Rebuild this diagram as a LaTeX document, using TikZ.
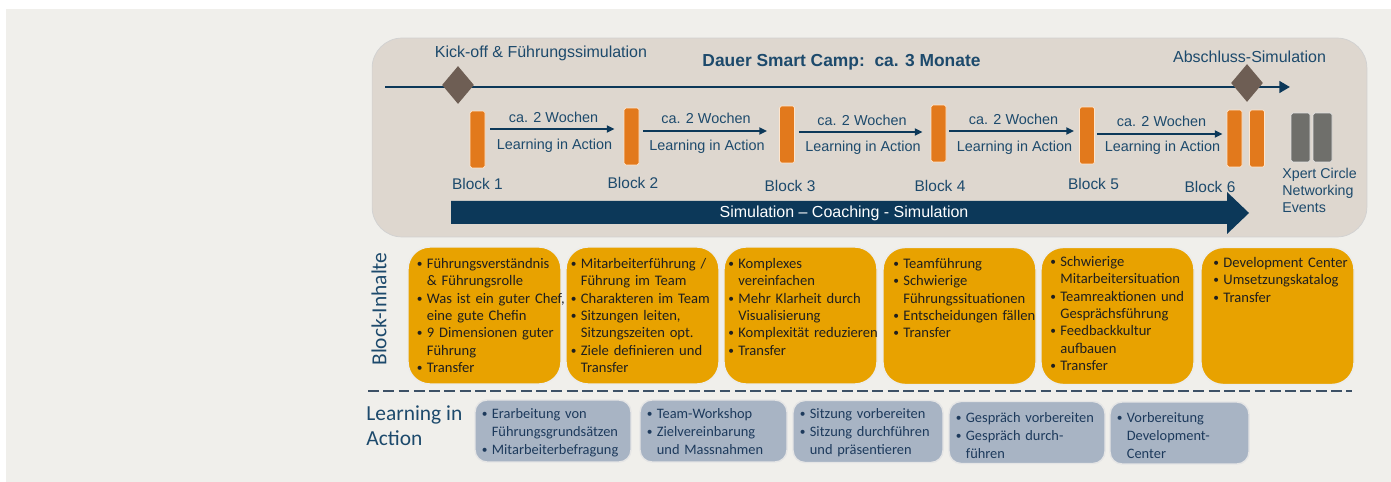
\documentclass[tikz,border=0pt]{standalone}
\usepackage{fontspec}
\setmainfont{Carlito}
\newfontfamily\arialfont{Liberation Sans}
\usetikzlibrary{shapes.geometric, arrows.meta, calc}

\definecolor{pagegray}{HTML}{F0EFEB}
\definecolor{campgray}{HTML}{DED7CF}
\definecolor{campnavy}{HTML}{0C3859}
\definecolor{navytext}{HTML}{1D4A6C}
\definecolor{mgbrown}{HTML}{6E5E54}
\definecolor{blockorange}{HTML}{E2791C}
\definecolor{xpgray}{HTML}{6F6F6B}
\definecolor{inhgold}{HTML}{E8A200}
\definecolor{liablue}{HTML}{A8B4C4}
\definecolor{liaink}{HTML}{1D3A5C}
\definecolor{sepline}{HTML}{3D5166}

% bullet point with hanging indent, \nl breaks inside the point
\newcommand{\bp}{\par\hangindent=5.7pt\hangafter=1\noindent\makebox[5.7pt][l]{\raisebox{0.5pt}{\fontsize{6.5}{6.5}\selectfont\textbullet}}}
\newcommand{\nl}{\newline}

\tikzset{
  camp/.style={draw=black!18, fill=campgray, rounded corners=0.6cm, minimum width=19.9cm, minimum height=3.98cm},
  tline/.style={draw=campnavy, line width=1.7pt, -{Triangle[length=6pt, width=6.5pt]}},
  milestone/.style={diamond, fill=mgbrown, inner sep=0, minimum width=0.64cm, minimum height=0.76cm},
  blk/.style={fill=blockorange, draw=orange!20, line width=0.4pt, rounded corners=1pt, inner sep=0, minimum width=0.3cm, minimum height=1.14cm},
  xblk/.style={fill=xpgray, draw=black!12, line width=0.4pt, rounded corners=1pt, inner sep=0, minimum width=0.38cm, minimum height=0.98cm},
  toptext/.style={font=\arialfont\fontsize{9.1}{11}\selectfont, text=navytext, inner sep=0},
  blktext/.style={font=\arialfont\fontsize{8.8}{10.5}\selectfont, text=navytext, inner sep=0},
  wk/.style={draw=campnavy, line width=1.1pt, -{Triangle[length=4.5pt, width=4pt]}},
  wktext/.style={font=\arialfont\fontsize{8.2}{10}\selectfont, text=navytext, inner sep=0},
  inh/.style={fill=inhgold, draw=white!85!gray, line width=0.8pt, rounded corners=0.44cm, minimum width=3.06cm, minimum height=2.74cm},
  inhtext/.style={anchor=north west, inner sep=0, text width=3.5cm, align=left, text=black!88, font=\fontsize{8.3}{9.9}\selectfont},
  lia/.style={fill=liablue, draw=white!80!gray, line width=0.8pt, rounded corners=0.24cm, minimum height=1.24cm},
  liatext/.style={anchor=north west, inner sep=0, text width=3.5cm, align=left, text=liaink, font=\fontsize{8.2}{10.2}\selectfont},
  side/.style={text=navytext, font=\fontsize{12.2}{14.2}\selectfont, inner sep=0},
  sep/.style={draw=sepline, line width=1.1pt, dash pattern=on 6.2pt off 2.5pt}
}

\begin{document}
\begin{tikzpicture}[x=0.02cm, y=-0.02cm]

 \useasboundingbox (0,0) rectangle (1391,482);
 \fill[white] (0,0) rectangle (1391,482);
 \fill[pagegray] (6,9) rectangle (1391,482);

 %%%  nodes

 % smart camp frame
 \node[camp] (camp) at (869.5,137.5) {};
 \coordinate (tl0) at (385,87);
 \coordinate (tl1) at (1290,87);
 \draw[tline] (tl0) -- (tl1);
 \node[milestone] (ko) at (458,85) {};
 \node[milestone] (as) at (1247,83) {};
 \node[toptext] (kot) at (541,53) {Kick-off \& Führungssimulation};
 \node[toptext] (ast) at (1249.5,57) {Abschluss-Simulation};
 \node[toptext, font=\arialfont\bfseries\fontsize{9.9}{12}\selectfont] (dauer) at (841.5,62) {Dauer Smart Camp:\ \ ca. 3 Monate};

 % blocks
 \node[blk] (b1) at (477.5,139.5) {};
 \node[blk] (b2) at (631.5,136.5) {};
 \node[blk] (b3) at (787,134.5) {};
 \node[blk] (b4) at (938.5,133.5) {};
 \node[blk] (b5) at (1087,135.5) {};
 \node[blk] (b6) at (1234.5,138.5) {};
 \node[blk] (b6x) at (1257,138.5) {};
 \node[xblk] (x1) at (1300.5,137.5) {};
 \node[xblk] (x2) at (1322.5,137.5) {};

 \node[blktext] (bl1) at (477.5,184) {Block 1};
 \node[blktext] (bl2) at (633,183) {Block 2};
 \node[blktext] (bl3) at (790,186) {Block 3};
 \node[blktext] (bl4) at (940,186) {Block 4};
 \node[blktext] (bl5) at (1093.5,184) {Block 5};
 \node[blktext] (bl6) at (1210,187) {Block 6};
 \node[toptext, font=\arialfont\fontsize{8.1}{9.7}\selectfont, anchor=west, align=left] (xp) at (1282,190) {Xpert Circle\\Networking\\Events};

 % learning in action between blocks
 \node[wktext] (w1) at (553.5,117) {ca. 2 Wochen};
 \node[wktext] (l1) at (554.5,146) {Learning in Action};
 \node[wktext] (w2) at (706,118) {ca. 2 Wochen};
 \node[wktext] (l2) at (707,147) {Learning in Action};
 \node[wktext] (w3) at (862,120) {ca. 2 Wochen};
 \node[wktext] (l3) at (863,148) {Learning in Action};
 \node[wktext] (w4) at (1013.5,119) {ca. 2 Wochen};
 \node[wktext] (l4) at (1014.5,148) {Learning in Action};
 \node[wktext] (w5) at (1161.5,121) {ca. 2 Wochen};
 \node[wktext] (l5) at (1162.5,148) {Learning in Action};

 \draw[wk] ($(b1.east |- 0,129)+(5,0)$) to ($(b2.west |- 0,129)+(-9,0)$);
 \draw[wk] ($(b2.east |- 0,131)+(4,0)$) to ($(b3.west |- 0,131)+(-12,0)$);
 \draw[wk] ($(b3.east |- 0,132)+(4,0)$) to ($(b4.west |- 0,132)+(-8,0)$);
 \draw[wk] ($(b4.east |- 0,131)+(3,0)$) to ($(b5.west |- 0,131)+(-5,0)$);
 \draw[wk] ($(b5.east |- 0,134)+(2,0)$) to ($(b6.west |- 0,134)+(-4,0)$);

 % simulation arrow
 \fill[campnavy] (451,201) -- (1227,201) -- (1227,192) -- (1249,213) -- (1227,234) -- (1227,224) -- (451,224) -- cycle;
 \node[toptext, text=white] (sim) at (844,213) {Simulation – Coaching - Simulation};

 % block contents
 \node[side, rotate=90] (bih) at (379,309) {Block-Inhalte};
 \node[inh] (i1) at (484.5,315.5) {};
 \node[inh] (i2) at (642.5,315.5) {};
 \node[inh] (i3) at (800.5,315.5) {};
 \node[inh] (i4) at (959.5,316) {};
 \node[inh] (i5) at (1117.5,316) {};
 \node[inh] (i6) at (1277.5,316) {};

 \node[inhtext] (t1) at (416.5,250.5) {\bp Führungsverständnis\nl \& Führungsrolle \bp Was ist ein guter Chef,\nl eine gute Chefin \bp 9 Dimensionen guter\nl Führung \bp Transfer\par};
 \node[inhtext] (t2) at (570.5,250.5) {\bp Mitarbeiterführung /\nl Führung im Team \bp Charakteren im Team \bp Sitzungen leiten,\nl Sitzungszeiten opt. \bp Ziele definieren und\nl Transfer\par};
 \node[inhtext] (t3) at (728,250.5) {\bp Komplexes\nl vereinfachen \bp Mehr Klarheit durch\nl Visualisierung \bp Komplexität reduzieren \bp Transfer\par};
 \node[inhtext] (t4) at (893,250.5) {\bp Teamführung \bp Schwierige\nl Führungssituationen \bp Entscheidungen fällen \bp Transfer\par};
 \node[inhtext] (t5) at (1050,248.5) {\bp Schwierige\nl Mitarbeitersituation \bp Teamreaktionen und\nl Gesprächsführung \bp Feedbackkultur\nl aufbauen \bp Transfer\par};
 \node[inhtext] (t6) at (1213,249.5) {\bp Development Center \bp Umsetzungskatalog \bp Transfer\par};

 % learning in action
 \coordinate (dl0) at (368,391);
 \coordinate (dl1) at (1352,391);
 \draw[sep] (dl0) -- (dl1);
 \node[side, anchor=west, align=left] (lia) at (366,425.5) {Learning in\\Action};

 \node[lia, minimum width=3.12cm] (a1) at (553,431) {};
 \node[lia, minimum width=2.94cm] (a2) at (713.5,431) {};
 \node[lia, minimum width=3cm] (a3) at (868,431.5) {};
 \node[lia, minimum width=3.12cm] (a4) at (1027,432.5) {};
 \node[lia, minimum width=2.78cm] (a5) at (1179.5,433) {};

 \node[liatext] (s1) at (481.5,400) {\bp Erarbeitung von\nl Führungsgrundsätzen \bp Mitarbeiterbefragung\par};
 \node[liatext] (s2) at (646.5,400) {\bp Team-Workshop \bp Zielvereinbarung\nl und Massnahmen\par};
 \node[liatext] (s3) at (799.5,400) {\bp Sitzung vorbereiten \bp Sitzung durchführen\nl und präsentieren\par};
 \node[liatext] (s4) at (955.5,404) {\bp Gespräch vorbereiten \bp Gespräch durch-\nl führen\par};
 \node[liatext] (s5) at (1116.5,404) {\bp Vorbereitung\nl Development-\nl Center\par};

\end{tikzpicture}
\end{document}
